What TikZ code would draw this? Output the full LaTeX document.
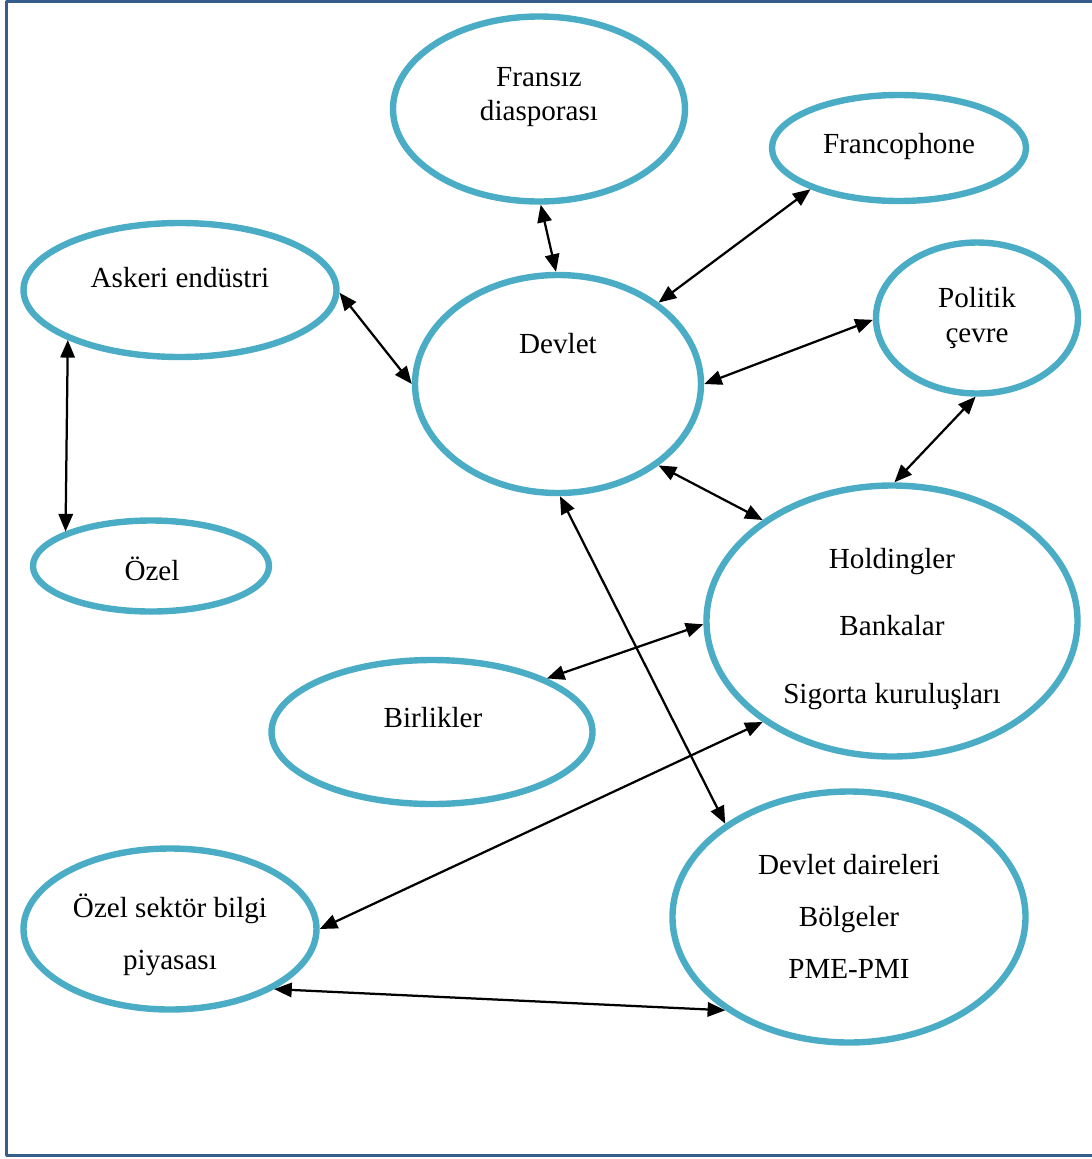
\documentclass[tikz,border=0pt]{standalone}
\usepackage{fontspec}
\setmainfont{Liberation Serif}
\usetikzlibrary{arrows.meta}
\usetikzlibrary{shapes.geometric}
\definecolor{aquablue}{RGB}{75,172,198}
\definecolor{frameblue}{RGB}{54,93,140}

\tikzset{
  oval/.style 2 args={ellipse,draw=aquablue,line width=0.16cm,inner sep=0pt,
    minimum width=#1*0.025cm,minimum height=#2*0.025cm},
  lbl/.style={font=\fontsize{20.7}{24.2}\selectfont,align=center,inner sep=0pt},
  link/.style={{Triangle[length=0.44cm,width=0.36cm]}-{Triangle[length=0.44cm,width=0.36cm]},
    line width=1.6pt}
}

\begin{document}
\begin{tikzpicture}[line cap=round,line join=round,x=0.025cm,y=-0.025cm]
\useasboundingbox (0,0) rectangle (1092,1159);
\draw[line width=3*0.025cm,color=frameblue,line cap=butt] (1092,1.5) -- (6.5,1.5) -- (6.5,1155) -- (1092,1155);
% ellipses
\node[oval={292}{185}] (fr) at (539,109) {};
\node[oval={254}{106}] (fc) at (899,148) {};
\node[oval={313}{134}] (ask) at (180,290) {};
\node[oval={286}{218}] (dev) at (558,384) {};
\node[oval={202}{151}] (pol) at (977,318) {};
\node[oval={236}{91}] (oz) at (151,566) {};
\node[oval={371}{271}] (hold) at (892,621) {};
\node[oval={321}{144}] (bir) at (432,732) {};
\node[oval={293}{161}] (ozs) at (170,929) {};
\node[oval={353}{251}] (dd) at (849,917) {};
% texts
\node[lbl] (fr-t) at (539,97) {Fransız\\diasporası};
\node[lbl] (fc-t) at (899,146) {Francophone};
\node[lbl] (ask-t) at (180,278) {Askeri endüstri};
\node[lbl] (dev-t) at (558,344) {Devlet};
\node[lbl] (pol-t) at (977,318) {Politik\\çevre};
\node[lbl] (oz-t) at (152,569) {Özel};
\node[lbl] (hold-t) at (892,629) {Holdingler\\[24pt]Bankalar\\[24pt]Sigorta kuruluşları};
\node[lbl] (bir-t) at (433,718) {Birlikler};
\node[lbl] (ozs-t) at (170,935) {Özel sektör bilgi\\[12.8pt]piyasası};
\node[lbl] (dd-t) at (849,916) {Devlet daireleri\\[12.8pt]Bölgeler\\[12.8pt]PME-PMI};
% links
\draw[link] (fr.-89) -- (dev.91);
\draw[link] (fc.-155) -- (dev.39);
\draw[link] (ask.-1) -- (dev.180);
\draw[link] (ask.-156) -- (oz.158);
\draw[link] (pol.181) -- (dev.0);
\draw[link] (pol.269) -- (hold.89);
\draw[link] (dev.-39) -- (hold.142);
\draw[link] (dev.-89) -- (dd.143);
\draw[link] (hold.181) -- (bir.25);
\draw[link] (hold.-142) -- (ozs.0);
\draw[link] (ozs.-30) -- (dd.-143);
\end{tikzpicture}
\end{document}
